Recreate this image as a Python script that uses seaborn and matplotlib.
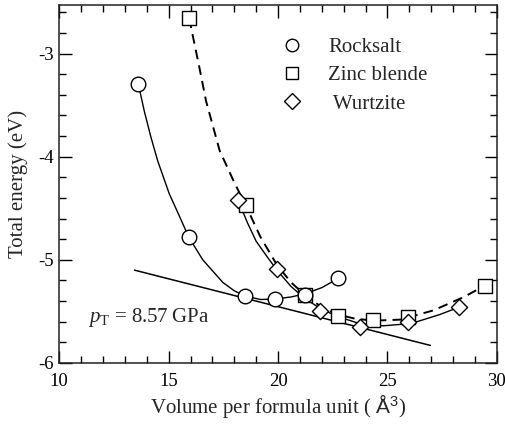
import matplotlib
matplotlib.use("Agg")
import matplotlib.pyplot as plt
import seaborn as sns
import numpy as np
from matplotlib.ticker import MultipleLocator
from matplotlib.lines import Line2D

# ---- data ----
rs_vol = [13.62, 15.92, 18.47, 19.86, 21.22, 22.75]
rs_e = [-3.30, -4.78, -5.35, -5.38, -5.34, -5.18]

zb_vol = [15.94, 18.52, 21.22, 22.72, 24.36, 25.96, 29.45]
zb_e = [-2.66, -4.47, -5.34, -5.54, -5.58, -5.55, -5.25]

wz_vol = [18.17, 19.95, 21.91, 23.75, 25.96, 28.26]
wz_e = [-4.42, -5.09, -5.50, -5.65, -5.60, -5.46]

# fitted curves
rs_fit_vol = [13.62, 13.89, 14.19, 14.50, 15.03, 15.50, 15.92, 16.56, 17.48, 18.00, 18.47, 19.20, 19.86, 20.60, 21.22, 22.00, 22.75]
rs_fit_e = [-3.30, -3.56, -3.81, -4.04, -4.36, -4.58, -4.78, -5.00, -5.22, -5.30, -5.35, -5.385, -5.38, -5.36, -5.33, -5.27, -5.18]

zb_fit_vol = [15.94, 16.41, 16.71, 17.33, 18.00, 18.52, 19.20, 19.95, 20.60, 21.22, 22.00, 22.72, 23.50, 24.36, 25.60, 27.10, 28.50, 29.10, 29.45]
zb_fit_e = [-2.66, -3.14, -3.46, -3.94, -4.25, -4.47, -4.78, -5.05, -5.22, -5.34, -5.46, -5.53, -5.57, -5.59, -5.58, -5.49, -5.36, -5.29, -5.25]

wz_fit_vol = [18.17, 18.60, 19.00, 19.50, 19.95, 20.60, 21.20, 21.91, 22.72, 23.75, 24.80, 25.96, 26.35, 27.40, 28.26]
wz_fit_e = [-4.42, -4.64, -4.82, -4.97, -5.10, -5.26, -5.37, -5.47, -5.55, -5.62, -5.64, -5.62, -5.60, -5.53, -5.46]

tangent_vol = [13.44, 26.96]
tangent_e = [-5.10, -5.83]

labels = ["Rocksalt", "Zinc blende", " Wurtzite"]
x_ticks = [10, 15, 20, 25, 30]
y_ticks = [-6, -5, -4, -3]

# ---- style ----
sns.set_style("ticks")
plt.rcParams["font.family"] = ["Liberation Serif", "DejaVu Serif"]
plt.rcParams["mathtext.fontset"] = "custom"
plt.rcParams["mathtext.rm"] = "Liberation Serif"
plt.rcParams["mathtext.it"] = "Liberation Serif:italic"
plt.rcParams["mathtext.sf"] = "Liberation Sans"
plt.rcParams["axes.unicode_minus"] = False
plt.rcParams["axes.linewidth"] = 1.1

fig = plt.figure(figsize=(5.06, 4.24), dpi=100)
ax = fig.add_axes([0.117, 0.144, 0.865, 0.844])

lw = 1.0
sns.lineplot(x=rs_fit_vol, y=rs_fit_e, ax=ax, color="black", lw=lw, sort=False, estimator=None, zorder=2)
sns.lineplot(x=zb_fit_vol, y=zb_fit_e, ax=ax, color="black", lw=1.4, sort=False, estimator=None, zorder=2)
ax.lines[-1].set_dashes((5, 3.2))
sns.lineplot(x=wz_fit_vol, y=wz_fit_e, ax=ax, color="black", lw=lw, sort=False, estimator=None, zorder=2)
sns.lineplot(x=tangent_vol, y=tangent_e, ax=ax, color="black", lw=1.1, sort=False, estimator=None, zorder=2)

ms_c, ms_s, ms_d = 10.5, 9.5, 9.5
sns.scatterplot(x=zb_vol, y=zb_e, ax=ax, marker="s", s=ms_s**2, facecolor="white", edgecolor="black", linewidth=1.0, zorder=3)
sns.scatterplot(x=rs_vol, y=rs_e, ax=ax, marker="o", s=ms_c**2, facecolor="white", edgecolor="black", linewidth=1.0, zorder=4)
sns.scatterplot(x=wz_vol, y=wz_e, ax=ax, marker="D", s=ms_d**2 * 0.75, facecolor="white", edgecolor="black", linewidth=1.0, zorder=5)

ax.set_xlim(10, 30)
ax.set_ylim(-6, -2.53)
ax.set_xticks(x_ticks)
ax.set_yticks(y_ticks)
ax.xaxis.set_minor_locator(MultipleLocator(1))
ax.yaxis.set_minor_locator(MultipleLocator(0.2))
ax.tick_params(which="both", direction="in", top=True, right=True, width=1.0, labelsize=13.5, colors="black")
ax.tick_params(which="major", length=9)
ax.tick_params(which="minor", length=5)
ax.tick_params(axis="x", pad=7)
ax.tick_params(axis="y", pad=4)
for s in ax.spines.values():
    s.set_visible(True)
    s.set_color("#222222")

ax.set_xlabel(r"Volume per formula unit ( $\mathsf{\AA}^{\mathsf{3}}$)", fontsize=15, labelpad=2)
ax.set_ylabel("Total energy (eV)", fontsize=15, labelpad=7)

ax.text(11.3, -5.60, r"$p_{\mathrm{T}}$ = 8.57 GPa", fontsize=15, ha="left", va="baseline")

handles = [
    Line2D([], [], ls="none", marker="o", ms=9, mfc="white", mec="black", mew=1.0),
    Line2D([], [], ls="none", marker="s", ms=8.5, mfc="white", mec="black", mew=1.0),
    Line2D([], [], ls="none", marker="D", ms=8, mfc="white", mec="black", mew=1.0),
]
ax.legend(handles, labels, loc="upper left",
          bbox_to_anchor=(0.455, 0.945), frameon=False, fontsize=15,
          handletextpad=0.75, labelspacing=0.42, borderaxespad=0.2)

fig.savefig("out.png", dpi=100)
